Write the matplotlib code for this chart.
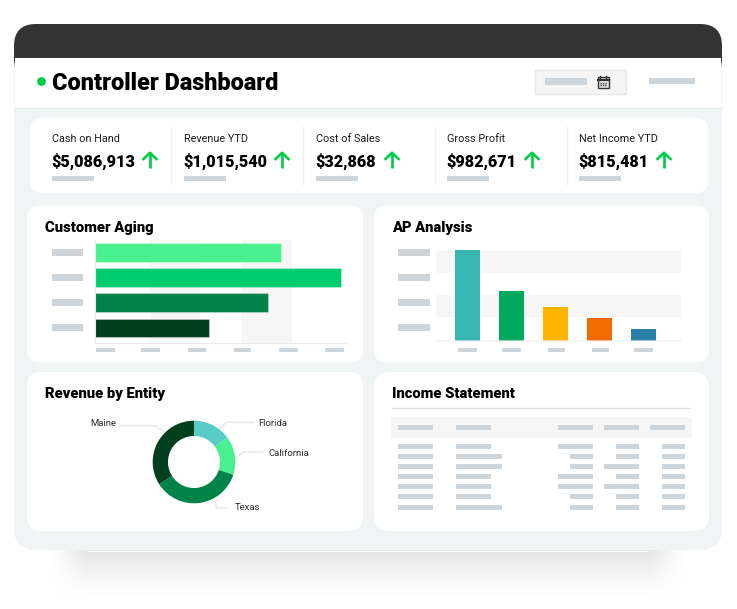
import numpy as np
import matplotlib.pyplot as plt
from matplotlib.patches import FancyBboxPatch, Rectangle

W = 737
H = 609

kpi_labels = ['Cash on Hand', 'Revenue YTD', 'Cost of Sales', 'Gross Profit', 'Net Income YTD']
kpi_values = ['$5,086,913', '$1,015,540', '$32,868', '$982,671', '$815,481']

aging_values = [185.5, 245.5, 173, 113.5]
aging_colors = ['#48f090', '#00cc6e', '#018248', '#013f1e']

ap_values = [91, 50, 34, 23, 12]
ap_colors = ['#37b6b2', '#02a95c', '#ffb400', '#f26a00', '#2a7fa8']

entity_names = ['Florida', 'California', 'Texas', 'Maine']
entity_values = [15, 15, 36, 34]
entity_colors = ['#5accc8', '#48f090', '#018248', '#013f1e']

row_first = [35, 35, 35, 35, 35, 35, 35]
row_second = [35, 46, 46, 35, 35, 35, 46]
row_third = [35, 23, 23, 35, 35, 23, 23]
row_fourth = [23, 23, 35, 23, 35, 23, 23]
row_fifth = [23, 23, 23, 23, 23, 23, 23]

STUB = '#cdd5da'
BAND = '#f6f6f6'
LINE = '#e6eaec'
GREEN = '#00cc44'

plt.rcParams['font.family'] = ['Roboto', 'DejaVu Sans']


def rounded(x0, y0, x1, y1, r, color, zorder=1):
    """Rounded card in pixel coordinates"""
    plt.gca().add_patch(FancyBboxPatch((x0, y0), x1 - x0, y1 - y0, boxstyle='round,pad=0,rounding_size={}'.format(r),
                                       fc=color, ec='none', zorder=zorder))


def stub(x, y, w, h=5, color=STUB):
    """Grey placeholder where the picture hides a text"""
    plt.gca().add_patch(Rectangle((x, y - h / 2), w, h, fc=color, ec='none', zorder=3))


def pixel_axes(x0, y0, x1, y1):
    return plt.axes([x0 / W, 1 - y1 / H, (x1 - x0) / W, (y1 - y0) / H], facecolor='none')


def up_arrow(x, top=152, bottom=168):
    plt.plot([x, x], [top + 1, bottom], color=GREEN, lw=1.9, solid_capstyle='butt', zorder=4)
    plt.plot([x - 6.5, x, x + 6.5], [top + 7, top + 0.8, top + 7], color=GREEN, lw=1.9, zorder=4)


plt.figure(figsize=(W / 100, H / 100), dpi=100, facecolor='white')
canvas = plt.axes([0, 0, 1, 1])

"""Soft shadow below the frame"""
xs = np.arange(0, W)
ys = np.arange(550, H)
fade_x = np.clip((xs - 45) / 50, 0, 1) * np.clip((690 - xs) / 50, 0, 1)
fade_y = np.clip((604 - ys) / 54, 0, 1) ** 1.6
shadow = np.zeros((len(ys), W, 4))
shadow[:, :, :3] = 0.55
shadow[:, :, 3] = 0.24 * np.outer(fade_y, fade_x * fade_x * (3 - 2 * fade_x))
plt.imshow(shadow, extent=(0, W, H, 550), aspect='auto', zorder=0)

"""Frame, dark top bar and title strip"""
rounded(14, 24, 722, 550, 22, '#f0f4f5')
rounded(14, 24, 722, 80, 22, '#333333', zorder=1.1)
plt.gca().add_patch(Rectangle((15, 58), 706, 50, fc='white', ec='none', zorder=1.2))
plt.plot([15, 721], [108, 108], color=LINE, lw=1, zorder=1.3)
plt.plot([88, 648], [550.5, 550.5], color='white', lw=0.7, zorder=1.3)

plt.scatter([41], [81], s=28, color=GREEN, zorder=4)
plt.text(52, 83.5, 'Controller Dashboard', fontsize=16.95, fontweight=900, color='black', va='center', zorder=4)

plt.gca().add_patch(Rectangle((535, 69.5), 91.5, 24, fc='#f5f5f5', ec='#e3e8ea', lw=1, zorder=2))
stub(545, 81.5, 42, 7)
stub(649, 81, 46, 5.5)

"""Calendar icon"""
plt.gca().add_patch(Rectangle((598, 77), 11, 10.5, fc='#e8e8e8', ec='#333333', lw=1, zorder=4))
plt.plot([598, 609], [79.5, 79.5], color='#333333', lw=1.6, zorder=5)
plt.plot([600.5, 600.5], [76, 78], color='#333333', lw=1, zorder=5)
plt.plot([606.5, 606.5], [76, 78], color='#333333', lw=1, zorder=5)
for row_y in [82.5, 85]:
    plt.plot([600, 607], [row_y, row_y], color='#333333', lw=1, ls=(0, (1, 0.7)), zorder=5)

"""KPI card"""
rounded(30, 118, 708, 193, 12, 'white', zorder=2)
kpi_x = [52, 184, 316, 447, 579]
arrow_x = [150, 282, 392, 532, 664]
for divider in [171.5, 303.5, 435.5, 567.5]:
    plt.plot([divider, divider], [127, 184], color='#eef1f2', lw=1, zorder=3)
for x, label, value, arrow in zip(kpi_x, kpi_labels, kpi_values, arrow_x):
    plt.text(x, 139, label, fontsize=7.8, color='#1c1c1c', va='center', zorder=4)
    plt.text(x - 1, 161, value, fontsize=11.7, fontweight=900, color='black', va='center', zorder=4)
    stub(x, 178.5, 42, 5)
    up_arrow(arrow)

"""Four cards with their titles"""
rounded(27, 206, 363, 362, 12, 'white', zorder=2)
rounded(374, 206, 709, 362, 12, 'white', zorder=2)
rounded(27, 372, 363, 531, 14, 'white', zorder=2)
rounded(374, 372, 709, 531, 16, 'white', zorder=2)
plt.text(45.5, 228, 'Customer Aging', fontsize=10.6, fontweight=900, color='black', va='center', zorder=4)
plt.text(392, 228, 'AP Analysis', fontsize=10.6, fontweight=900, color='black', va='center', zorder=4)
plt.text(45.5, 394, 'Revenue by Entity', fontsize=10.6, fontweight=900, color='black', va='center', zorder=4)
plt.text(392, 394, 'Income Statement', fontsize=10.6, fontweight=900, color='black', va='center', zorder=4)

"""Hidden axis labels of the two bar charts"""
for y in [252.5, 277.5, 302.7, 327.7]:
    stub(51.7, y, 31.3, 6.5)
for y in [252.5, 277.5, 302.7, 327.7]:
    stub(398.5, y, 31.5, 6.5)
for x, w in zip([95.7, 141, 188, 233.7, 279, 324.7], [19, 19, 17.7, 17.3, 19, 19]):
    stub(x, 350, w, 3.5)
for x, w in zip([458, 502, 547.7, 591.7, 634], [19, 19, 17.3, 17.3, 19]):
    stub(x, 350, w, 3.5)

"""Income statement table"""
plt.plot([392, 690], [408.3, 408.3], color='#dfe5e9', lw=1, zorder=3)
plt.gca().add_patch(Rectangle((391, 417), 301, 21, fc=BAND, ec='none', zorder=2.5))
stub(398, 427, 34.7)
stub(456, 427, 35)
stub(558, 427, 34.7)
stub(604, 427, 34.7)
stub(650.3, 427, 34.7)
row_y = [446.3, 456.3, 466.3, 476.7, 486.7, 496.7, 507]
for y, a, b, c, d, e in zip(row_y, row_first, row_second, row_third, row_fourth, row_fifth):
    stub(398, y, a)
    stub(456, y, b)
    stub(592.7 - c, y, c)
    stub(638.7 - d, y, d)
    stub(685 - e, y, e)

"""Donut leader lines and labels"""
leader_x = [[254.3, 226.7, 219], [263, 242.7, 236], [228, 216.7, 214.7], [120, 155, 164.3]]
leader_y = [[422.3, 422.3, 428.3], [452, 452, 458.3], [508, 508, 501.7], [425.7, 425.7, 431.7]]
label_x = [258, 268.5, 235, 90]
label_y = [423.5, 453, 508, 424]
for lx, ly in zip(leader_x, leader_y):
    plt.plot(lx, ly, color='#e3e8ea', lw=1, zorder=3)
for x, y, name in zip(label_x, label_y, entity_names):
    plt.text(x, y, name, fontsize=6.8, color='#2a2a2a', va='center', zorder=4)

plt.xlim(0, W)
plt.ylim(H, 0)
plt.axis('off')

"""Customer Aging bars"""
pixel_axes(95.2, 240, 347, 342.7)
plt.axvspan(54.8, 105.1, color=BAND, lw=0, zorder=0)
plt.axvspan(146.5, 196.5, color=BAND, lw=0, zorder=0)
plt.barh(range(len(aging_values)), aging_values, height=0.745, color=aging_colors, zorder=2,
         edgecolor=(1, 1, 1, 0.3), linewidth=0.8)
plt.xlim(0, 251.8)
plt.ylim(3.59, -0.5)
plt.xticks([])
plt.yticks([])
for side in ['top', 'right']:
    plt.gca().spines[side].set_visible(False)
for side in ['left', 'bottom']:
    plt.gca().spines[side].set_color(LINE)

"""AP Analysis bars"""
pixel_axes(436, 245, 681, 340.5)
plt.axhspan(67.5, 89.5, color=BAND, lw=0, zorder=0)
plt.axhspan(23.8, 45.5, color=BAND, lw=0, zorder=0)
plt.bar(range(len(ap_values)), ap_values, width=0.568, color=ap_colors, zorder=1)
plt.xlim(-0.716, 4.852)
plt.ylim(0, 95.5)
plt.xticks([])
plt.yticks([])
for side in ['top', 'right', 'left']:
    plt.gca().spines[side].set_visible(False)
plt.gca().spines['bottom'].set_color((0.93, 0.94, 0.95, 0.75))
plt.gca().spines['bottom'].set_linewidth(1.2)

"""Revenue by Entity donut"""
pixel_axes(144, 412, 244, 512)
plt.pie(entity_values, colors=entity_colors, startangle=90, counterclock=False, radius=41.3,
        wedgeprops={'width': 15.3})
plt.xlim(-50, 50)
plt.ylim(-50, 50)

plt.savefig('out.png', dpi=100)
